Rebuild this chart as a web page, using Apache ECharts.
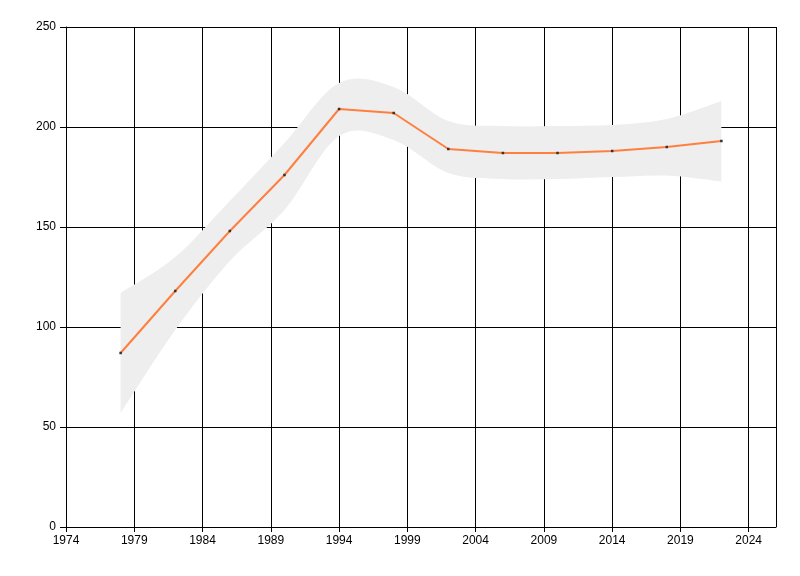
<!DOCTYPE html>
<html><head><meta charset="utf-8">
<script src="https://cdn.jsdelivr.net/npm/echarts@6/dist/echarts.min.js"></script>
<style>html,body{margin:0;padding:0;background:#fff}#c{width:800px;height:576px}</style>
</head><body><div id="c"></div>
<script>
const years = [1978, 1982, 1986, 1990, 1994, 1998, 2002, 2006, 2010, 2014, 2018, 2022];
const values = [87, 118, 148, 176, 209, 207, 189, 187, 187, 188, 190, 193];
const upper = [117, 135, 163, 192, 222, 220, 203, 200.5, 200.5, 201, 204, 213];
const lower = [57, 98.5, 133, 158.5, 195.5, 193.5, 177, 174, 174, 175, 175.7, 172.7];

const bandData = years.map((y, i) => [y, lower[i], upper[i]]);
const lineData = years.map((y, i) => [y, values[i]]);

function smoothSeg(pts, t) {
  // cardinal spline through pts, returns bezier commands (without initial M)
  let d = '';
  for (let i = 0; i < pts.length - 1; i++) {
    const p0 = pts[Math.max(0, i - 1)], p1 = pts[i], p2 = pts[i + 1], p3 = pts[Math.min(pts.length - 1, i + 2)];
    const c1x = p1[0] + (p2[0] - p0[0]) * t / 3;
    const c1y = p1[1] + (p2[1] - p0[1]) * t / 3;
    const c2x = p2[0] - (p3[0] - p1[0]) * t / 3;
    const c2y = p2[1] - (p3[1] - p1[1]) * t / 3;
    d += ' C' + c1x + ',' + c1y + ' ' + c2x + ',' + c2y + ' ' + p2[0] + ',' + p2[1];
  }
  return d;
}

const chart = echarts.init(document.getElementById('c'));
const axisText = { color: '#000', fontFamily: 'Liberation Sans, Arial, sans-serif', fontSize: 12 };
chart.setOption({
  animation: false,
  grid: { left: 66, right: 24, top: 27, bottom: 49, containLabel: false },
  xAxis: {
    type: 'value', min: 1974, max: 2026, interval: 5,
    axisLine: { show: true, onZero: false, lineStyle: { color: '#000', width: 1 } },
    axisTick: { show: true, length: 5, lineStyle: { color: '#000' } },
    axisLabel: Object.assign({ margin: 8, showMaxLabel: false, formatter: v => String(v) }, axisText),
    splitLine: { show: true, lineStyle: { color: '#000', width: 1 } }
  },
  yAxis: {
    type: 'value', min: 0, max: 250, interval: 50,
    axisLine: { show: true, lineStyle: { color: '#000', width: 1 } },
    axisTick: { show: true, length: 6, lineStyle: { color: '#000' } },
    axisLabel: Object.assign({ margin: 10 }, axisText),
    splitLine: { show: true, lineStyle: { color: '#000', width: 1 } }
  },
  series: [
    { type: 'custom', data: bandData, silent: true, z: 2,
      encode: { x: 0, y: [1, 2] },
      renderItem: function (params, api) {
        if (params.dataIndex !== 0) return null;
        const up = bandData.map(d => api.coord([d[0], d[2]]));
        const lo = bandData.map(d => api.coord([d[0], d[1]])).reverse();
        const t = 0.5;
        let d = 'M' + up[0][0] + ',' + up[0][1] + smoothSeg(up, t);
        d += ' L' + lo[0][0] + ',' + lo[0][1] + smoothSeg(lo, t) + ' Z';
        return { type: 'path', shape: { pathData: d }, style: { fill: '#eeeeee', stroke: null } };
      }
    },
    { type: 'line', data: lineData, symbol: 'rect', symbolSize: 2.5,
      itemStyle: { color: '#333' }, lineStyle: { color: '#ff7f3f', width: 2 }, z: 3 }
  ]
});
</script></body></html>
